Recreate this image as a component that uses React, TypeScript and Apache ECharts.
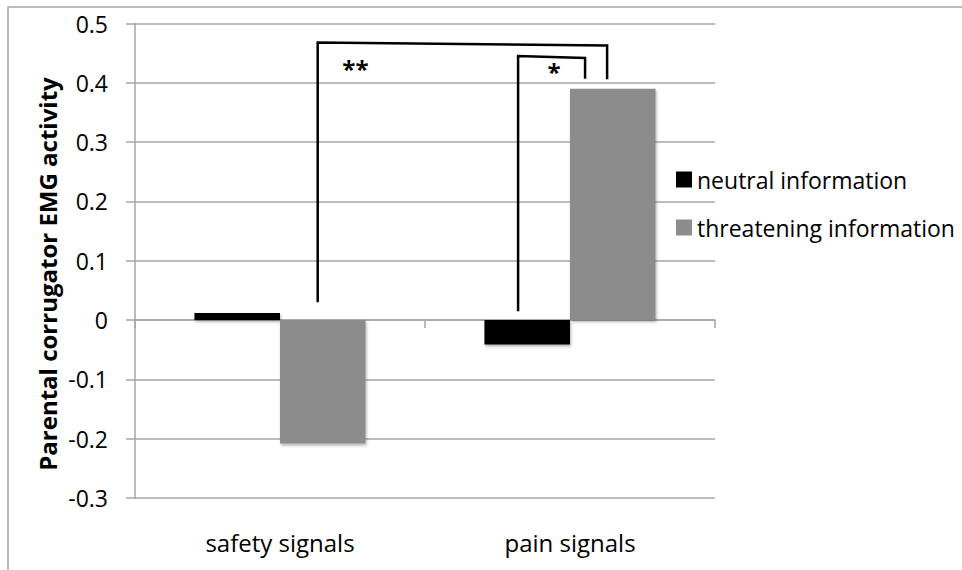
import React, { useEffect, useRef } from "react";
import * as echarts from "echarts";

const categories = ["safety signals", "pain signals"];
const seriesNames = ["neutral information", "threatening information"];
const neutralValues = [0.012, -0.041];
const threateningValues = [-0.208, 0.39];
const yTicks = { min: -0.3, max: 0.5, interval: 0.1 };
const yAxisTitle = "Parental corrugator EMG activity";
// significance brackets: [category position, value] points, and label
const bracketDouble = [[0.13, 0.03], [0.13, 0.468], [1.128, 0.463], [1.128, 0.406]];
const bracketSingle = [[0.821, 0.015], [0.821, 0.445], [1.052, 0.442], [1.052, 0.407]];
const starLabels = ["**", "*"];
const starPos = [[0.26, 0.424], [0.945, 0.419]];

const FONT = "'Open Sans', 'Noto Sans', sans-serif";
const GRID_COLOR = "#a6a6a6";

export default function App() {
  const ref = useRef<HTMLDivElement>(null);
  useEffect(() => {
    if (!ref.current) return;
    const chart = echarts.init(ref.current, undefined, { renderer: "svg" });
    const barShadow = {
      shadowBlur: 3,
      shadowOffsetX: 1,
      shadowOffsetY: 2,
      shadowColor: "rgba(0,0,0,0.3)",
    };
    chart.setOption({
      animation: false,
      backgroundColor: "#ffffff",
      grid: { left: 135, right: 247, top: 23.5, bottom: 72, containLabel: false },
      legend: {
        data: seriesNames.map((n) => ({ name: n, icon: "rect" })),
        orient: "vertical",
        left: 671,
        top: 163,
        itemWidth: 16,
        itemHeight: 16,
        itemGap: 25,
        textStyle: { fontFamily: FONT, fontSize: 23, color: "#000" },
      },
      xAxis: [
        {
          type: "category",
          data: categories,
          axisLine: { onZero: true, lineStyle: { color: GRID_COLOR, width: 1.5 } },
          axisTick: { show: true, length: 8, lineStyle: { color: GRID_COLOR, width: 1.5 } },
          axisLabel: { show: false },
          splitLine: { show: false },
        },
        {
          type: "category",
          data: categories,
          position: "bottom",
          axisLine: { show: false, onZero: false },
          axisTick: { show: false },
          axisLabel: { show: true, margin: 32, fontFamily: FONT, fontSize: 24, color: "#000" },
          splitLine: { show: false },
        },
      ],
      yAxis: {
        type: "value",
        min: yTicks.min,
        max: yTicks.max,
        interval: yTicks.interval,
        axisLine: { show: true, lineStyle: { color: GRID_COLOR, width: 1.5 } },
        axisTick: { show: true, length: 9, lineStyle: { color: GRID_COLOR, width: 1.5 } },
        axisLabel: {
          margin: 27,
          fontFamily: FONT,
          fontSize: 23,
          color: "#000",
          formatter: (v: number) => String(Number(v.toFixed(1))),
        },
        splitLine: { show: true, lineStyle: { color: GRID_COLOR, width: 1.5 } },
      },
      series: [
        {
          name: seriesNames[0],
          type: "bar",
          data: neutralValues,
          barGap: "0%",
          barCategoryGap: "41%",
          itemStyle: { color: "#000000", ...barShadow },
        },
        {
          name: seriesNames[1],
          type: "bar",
          data: threateningValues,
          barGap: "0%",
          barCategoryGap: "41%",
          itemStyle: { color: "#8c8c8c", ...barShadow },
        },
      ],
    });

    const c0 = chart.convertToPixel({ xAxisIndex: 0 }, 0) as number;
    const c1 = chart.convertToPixel({ xAxisIndex: 0 }, 1) as number;
    const band = c1 - c0;
    const toPx = (p: number[]) => [
      c0 + p[0] * band,
      chart.convertToPixel({ yAxisIndex: 0 }, p[1]) as number,
    ];
    const lineStyle = { stroke: "#000", lineWidth: 2.5, fill: null };
    chart.setOption({
      graphic: [
        {
          type: "rect",
          shape: { x: 8, y: 7, width: 1200, height: 900 },
          style: { fill: null, stroke: GRID_COLOR, lineWidth: 1.5 },
          silent: true,
        },
        {
          type: "text",
          x: 47,
          y: 274,
          rotation: Math.PI / 2,
          style: {
            text: yAxisTitle,
            fontFamily: FONT,
            fontSize: 24,
            fontWeight: "bold",
            fill: "#000",
            align: "center",
            verticalAlign: "middle",
          },
          silent: true,
        },
        { type: "polyline", shape: { points: bracketDouble.map(toPx) }, style: lineStyle, silent: true },
        { type: "polyline", shape: { points: bracketSingle.map(toPx) }, style: lineStyle, silent: true },
        ...starLabels.map((s, i) => {
          const [x, y] = toPx(starPos[i]);
          return {
            type: "text",
            x,
            y,
            style: {
              text: s,
              fontFamily: FONT,
              fontSize: 24,
              fontWeight: "bold",
              fill: "#000",
              align: "center",
              verticalAlign: "middle",
            },
            silent: true,
          };
        }),
      ],
    });
    return () => chart.dispose();
  }, []);
  return (
    <div
      ref={ref}
      style={{ position: "absolute", left: 0, top: 0, width: 962, height: 570 }}
    />
  );
}
